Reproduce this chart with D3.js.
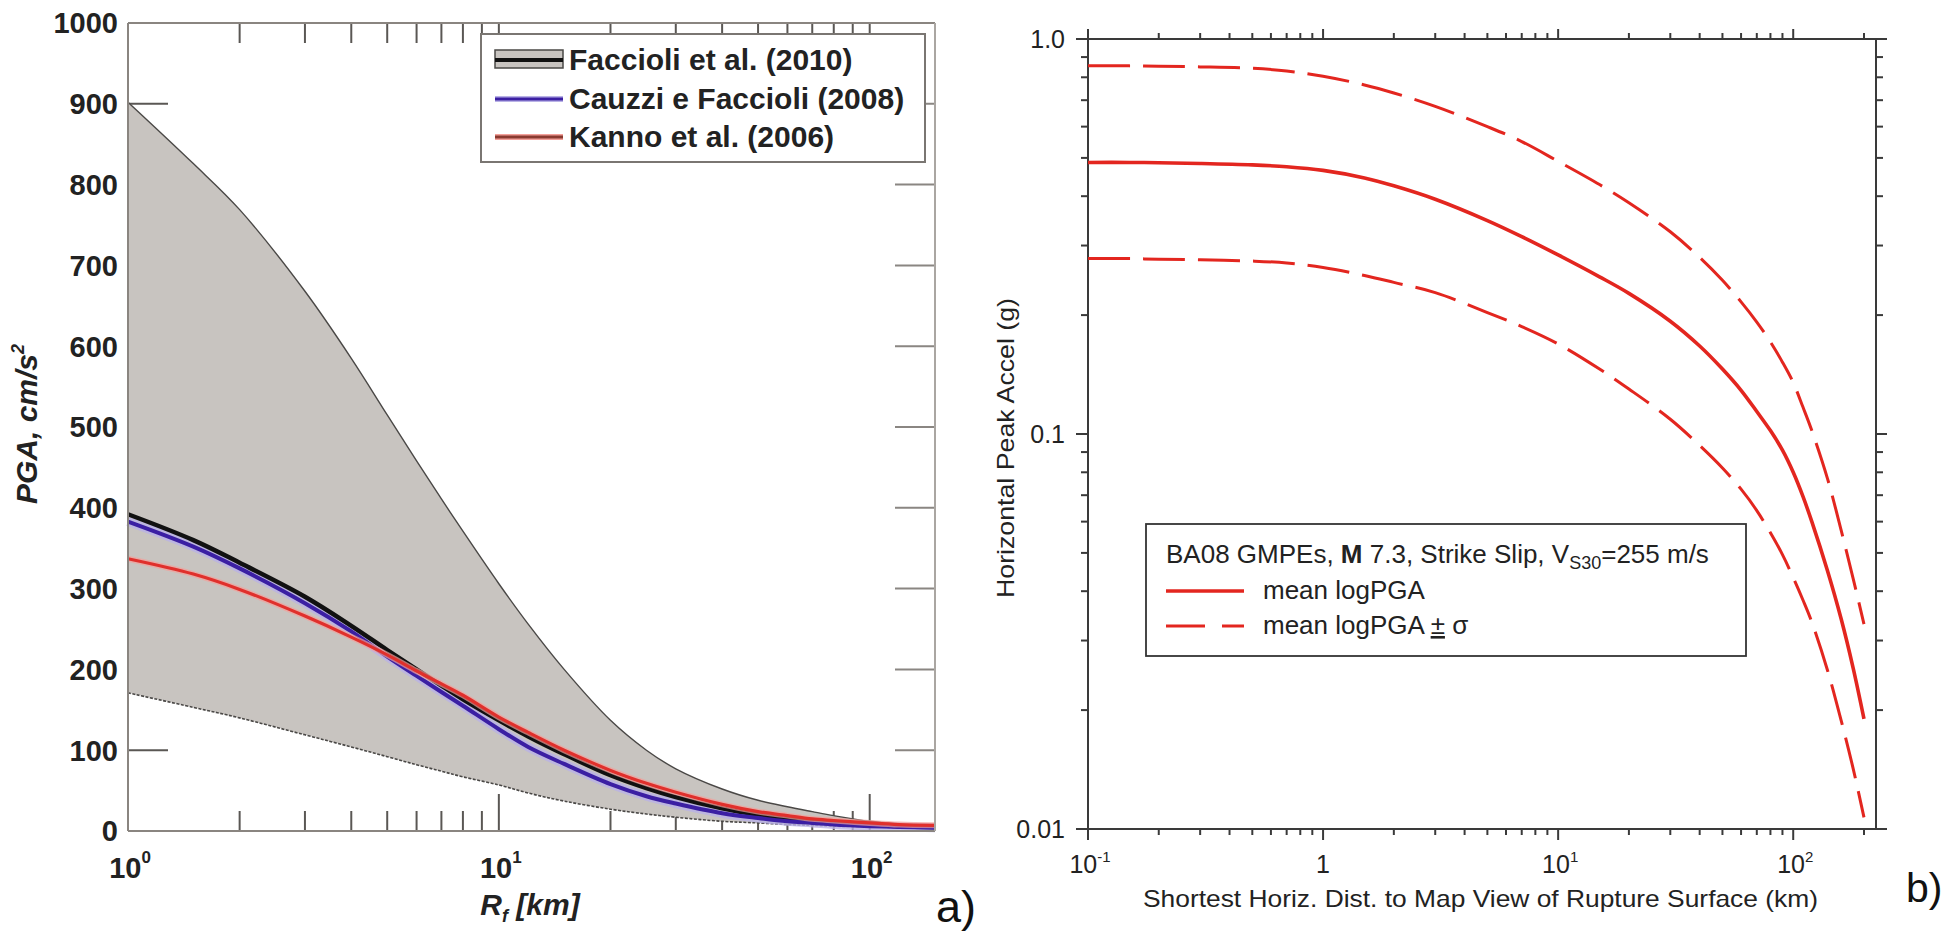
<!DOCTYPE html>
<html><head><meta charset="utf-8">
<script src="https://cdn.jsdelivr.net/npm/d3@7"></script>
<style>body{margin:0;background:#fff}svg{display:block}text{font-family:"Liberation Sans",Arial,sans-serif}</style>
</head><body>
<svg id="c" width="1946" height="943"></svg>
<script>
// ---------- Panel a) data ----------
const distA   = [1, 1.5, 2, 3, 4, 5, 6, 7, 8, 10, 12, 15, 20, 25, 30, 40, 50, 60, 70, 80, 100, 120, 150];
const upperA  = [902, 826, 769, 668, 585, 515, 458, 411, 371, 306, 256, 200, 137, 100, 77, 52, 38, 30, 24, 19, 12, 9, 7];
const lowerA  = [171, 153, 140, 119, 104, 92, 82, 74, 67, 57, 47, 37, 27, 21, 17, 12, 10, 8, 7, 6, 5, 4, 4];
const faccioli= [392, 360, 332, 290, 254, 224, 200, 180, 163, 137, 117, 95, 69, 53, 42, 28, 20, 15, 12, 10, 8, 6, 5];
const cauzzi  = [383, 352, 325, 282, 247, 216, 192, 172, 155, 126, 104, 83, 58, 43, 34, 22, 16, 12, 10, 8, 6, 5, 4];
const kanno   = [337, 318, 299, 266, 240, 218, 198, 182, 168, 141, 122, 100, 75, 59, 48, 33, 24, 19, 15, 13, 10, 8, 7];
const yTicksA = [0, 100, 200, 300, 400, 500, 600, 700, 800, 900, 1000];
const xExpA   = [0, 1, 2];
const legendA = ["Faccioli et al. (2010)", "Cauzzi e Faccioli (2008)", "Kanno et al. (2006)"];

// ---------- Panel b) data ----------
const distB  = [0.1, 0.15, 0.2, 0.3, 0.5, 0.7, 1, 1.5, 2, 3, 5, 7, 10, 15, 20, 30, 40, 50, 60, 70, 80, 90, 100, 110, 120, 140, 160, 180, 200];
const meanB  = [0.487, 0.487, 0.486, 0.484, 0.480, 0.475, 0.465, 0.445, 0.425, 0.393, 0.347, 0.316, 0.284, 0.250, 0.227, 0.193, 0.167, 0.146, 0.129, 0.114, 0.102, 0.091, 0.080, 0.0695, 0.060, 0.045, 0.034, 0.0255, 0.019];
const plusB  = [0.855, 0.855, 0.853, 0.850, 0.843, 0.830, 0.805, 0.765, 0.730, 0.675, 0.600, 0.550, 0.490, 0.428, 0.385, 0.325, 0.280, 0.245, 0.216, 0.192, 0.171, 0.152, 0.135, 0.117, 0.102, 0.077, 0.057, 0.043, 0.033];
const minusB = [0.278, 0.278, 0.277, 0.276, 0.274, 0.271, 0.264, 0.252, 0.242, 0.228, 0.203, 0.187, 0.169, 0.146, 0.130, 0.109, 0.0935, 0.0820, 0.0725, 0.0640, 0.0562, 0.0495, 0.0433, 0.0380, 0.0334, 0.0252, 0.0188, 0.0142, 0.0107];
const yTickLabelsB = [{v:1, t:"1.0"}, {v:0.1, t:"0.1"}, {v:0.01, t:"0.01"}];
const xTickLabelsB = [{v:0.1, b:"10", e:"-1"}, {v:1, b:"1", e:""}, {v:10, b:"10", e:"1"}, {v:100, b:"10", e:"2"}];

const svg = d3.select("#c");
const isMajor = t => Math.abs(Math.log10(t) - Math.round(Math.log10(t))) < 1e-6;
const curve = d3.curveCatmullRom.alpha(0.5);

// ================= Panel a =================
const xA = d3.scaleLog().domain([1, 150]).range([128, 935]);
const yA = d3.scaleLinear().domain([0, 1000]).range([831, 23]);
const gA = svg.append("g");
const tickCol = "#5a5754";

xA.ticks().filter(t => t > 1).forEach(t => {
  const L = isMajor(t) ? 37 : 20;
  gA.append("line").attr("x1", xA(t)).attr("x2", xA(t)).attr("y1", yA(0)).attr("y2", yA(0) - L)
    .attr("stroke", tickCol).attr("stroke-width", 2);
  gA.append("line").attr("x1", xA(t)).attr("x2", xA(t)).attr("y1", yA(1000)).attr("y2", yA(1000) + 20)
    .attr("stroke", tickCol).attr("stroke-width", 2);
});
yTicksA.filter(v => v > 0 && v < 1000).forEach(v => {
  gA.append("line").attr("x1", xA(1)).attr("x2", xA(1) + 40).attr("y1", yA(v)).attr("y2", yA(v))
    .attr("stroke", tickCol).attr("stroke-width", 2);
  gA.append("line").attr("x1", xA(150)).attr("x2", xA(150) - 40).attr("y1", yA(v)).attr("y2", yA(v))
    .attr("stroke", "#8a8682").attr("stroke-width", 2);
});

const ptsA = distA.map((d, i) => ({x: d, up: upperA[i], lo: lowerA[i], f: faccioli[i], c: cauzzi[i], k: kanno[i]}));
const area = d3.area().x(d => xA(d.x)).y0(d => yA(d.lo)).y1(d => yA(d.up)).curve(curve);
gA.append("path").datum(ptsA).attr("d", area).attr("fill", "#c8c4c0");
const lineOf = key => d3.line().x(d => xA(d.x)).y(d => yA(d[key])).curve(curve);
gA.append("path").datum(ptsA).attr("d", lineOf("up")).attr("fill", "none").attr("stroke", "#4a4846").attr("stroke-width", 1.4);
gA.append("path").datum(ptsA).attr("d", lineOf("lo")).attr("fill", "none").attr("stroke", "#4a4846").attr("stroke-width", 1.6).attr("stroke-dasharray", "3,1.5");

gA.append("path").datum(ptsA).attr("d", lineOf("c")).attr("fill", "none").attr("stroke", "#b9b2e6").attr("stroke-width", 9).attr("opacity", 0.8);
gA.append("path").datum(ptsA).attr("d", lineOf("f")).attr("fill", "none").attr("stroke", "#111").attr("stroke-width", 4.5);
gA.append("path").datum(ptsA).attr("d", lineOf("c")).attr("fill", "none").attr("stroke", "#3b1fa3").attr("stroke-width", 4);
gA.append("path").datum(ptsA).attr("d", lineOf("k")).attr("fill", "none").attr("stroke", "#f3a09a").attr("stroke-width", 6).attr("opacity", 0.7);
gA.append("path").datum(ptsA).attr("d", lineOf("k")).attr("fill", "none").attr("stroke", "#e0302c").attr("stroke-width", 3.2);

// frame
gA.append("line").attr("x1", 128).attr("x2", 128).attr("y1", yA(1000)).attr("y2", yA(0)).attr("stroke", "#8a8580").attr("stroke-width", 2);
gA.append("line").attr("x1", 128).attr("x2", xA(150)).attr("y1", yA(1000)).attr("y2", yA(1000)).attr("stroke", "#8a8580").attr("stroke-width", 2);
gA.append("line").attr("x1", 128).attr("x2", xA(150)).attr("y1", yA(0)).attr("y2", yA(0)).attr("stroke", "#8a8580").attr("stroke-width", 2);
gA.append("line").attr("x1", xA(150)).attr("x2", xA(150)).attr("y1", yA(1000)).attr("y2", yA(0)).attr("stroke", "#aaa6a2").attr("stroke-width", 2);

// legend a
gA.append("rect").attr("x", 481).attr("y", 34).attr("width", 444).attr("height", 128)
  .attr("fill", "#fff").attr("stroke", "#7a7672").attr("stroke-width", 2);
const legY = [60, 99, 137];
gA.append("rect").attr("x", 495).attr("y", 50).attr("width", 68).attr("height", 18)
  .attr("fill", "#c8c4c0").attr("stroke", "#4a4846").attr("stroke-width", 1.5);
gA.append("line").attr("x1", 495).attr("x2", 563).attr("y1", legY[0]).attr("y2", legY[0]).attr("stroke", "#111").attr("stroke-width", 4);
gA.append("line").attr("x1", 495).attr("x2", 563).attr("y1", legY[1]).attr("y2", legY[1]).attr("stroke", "#b9b2e6").attr("stroke-width", 6);
gA.append("line").attr("x1", 495).attr("x2", 563).attr("y1", legY[1]).attr("y2", legY[1]).attr("stroke", "#3b1fa3").attr("stroke-width", 3);
gA.append("line").attr("x1", 495).attr("x2", 563).attr("y1", legY[2]).attr("y2", legY[2]).attr("stroke", "#f3a09a").attr("stroke-width", 6);
gA.append("line").attr("x1", 495).attr("x2", 563).attr("y1", legY[2]).attr("y2", legY[2]).attr("stroke", "#8a3a30").attr("stroke-width", 3);
legendA.forEach((t, i) => {
  gA.append("text").attr("x", 569).attr("y", legY[i] + 10).attr("font-size", 30).attr("font-weight", "bold")
    .attr("fill", "#222").text(t);
});

// tick labels a
yTicksA.forEach(v => {
  gA.append("text").attr("x", 118).attr("y", yA(v)).attr("dy", "0.36em").attr("text-anchor", "end")
    .attr("font-size", 29).attr("font-weight", "bold").attr("fill", "#222").text(v);
});
xExpA.forEach(p => {
  const t = gA.append("text").attr("x", xA(Math.pow(10, p)) + 2).attr("y", 878).attr("text-anchor", "middle")
    .attr("font-size", 29).attr("font-weight", "bold").attr("fill", "#222");
  t.append("tspan").text("10");
  t.append("tspan").attr("dy", -15).attr("font-size", 17).text(p);
});
const xt = gA.append("text").attr("x", 530).attr("y", 915).attr("text-anchor", "middle")
  .attr("font-size", 30).attr("font-weight", "bold").attr("font-style", "italic").attr("fill", "#222");
xt.append("tspan").text("R");
xt.append("tspan").attr("dy", 7).attr("font-size", 18).text("f");
xt.append("tspan").attr("dy", -7).text(" [km]");
const yt = gA.append("text").attr("transform", "translate(37,424) rotate(-90)").attr("text-anchor", "middle")
  .attr("font-size", 30).attr("font-weight", "bold").attr("font-style", "italic").attr("fill", "#222");
yt.append("tspan").text("PGA, cm/s");
yt.append("tspan").attr("dy", -13).attr("font-size", 18).text("2");
svg.append("text").attr("x", 936).attr("y", 922).attr("font-size", 45).attr("fill", "#111").text("a)");

// ================= Panel b =================
const xB = d3.scaleLog().domain([0.1, 225]).range([1088, 1876]);
const yB = d3.scaleLog().domain([0.01, 1]).range([829, 39]);
const gB = svg.append("g");
const axCol = "#3a3a3a";

xB.ticks().forEach(t => {
  const maj = isMajor(t);
  gB.append("line").attr("x1", xB(t)).attr("x2", xB(t)).attr("y1", yB(1)).attr("y2", yB(1) - (maj ? 10 : 6))
    .attr("stroke", axCol).attr("stroke-width", 2);
  gB.append("line").attr("x1", xB(t)).attr("x2", xB(t)).attr("y1", yB(0.01)).attr("y2", yB(0.01) + (maj ? 11 : 6))
    .attr("stroke", axCol).attr("stroke-width", 2);
});
yB.ticks().forEach(t => {
  const maj = isMajor(t);
  gB.append("line").attr("x1", xB(0.1)).attr("x2", xB(0.1) - (maj ? 12 : 7)).attr("y1", yB(t)).attr("y2", yB(t))
    .attr("stroke", axCol).attr("stroke-width", 2);
  gB.append("line").attr("x1", xB(225)).attr("x2", xB(225) + (maj ? 11 : 7)).attr("y1", yB(t)).attr("y2", yB(t))
    .attr("stroke", axCol).attr("stroke-width", 2);
});
gB.append("rect").attr("x", xB(0.1)).attr("y", yB(1)).attr("width", xB(225) - xB(0.1)).attr("height", yB(0.01) - yB(1))
  .attr("fill", "none").attr("stroke", axCol).attr("stroke-width", 2);

const ptsB = distB.map((d, i) => ({x: d, m: meanB[i], p: plusB[i], n: minusB[i]}));
const lineB = key => d3.line().x(d => xB(d.x)).y(d => yB(d[key])).curve(curve);
const red = "#e3261f";
gB.append("path").datum(ptsB).attr("d", lineB("m")).attr("fill", "none").attr("stroke", red).attr("stroke-width", 3.6);
gB.append("path").datum(ptsB).attr("d", lineB("p")).attr("fill", "none").attr("stroke", red).attr("stroke-width", 3).attr("stroke-dasharray", "42,13");
gB.append("path").datum(ptsB).attr("d", lineB("n")).attr("fill", "none").attr("stroke", red).attr("stroke-width", 3).attr("stroke-dasharray", "42,13");

yTickLabelsB.forEach(d => {
  gB.append("text").attr("x", 1065).attr("y", yB(d.v)).attr("dy", "0.36em").attr("text-anchor", "end")
    .attr("font-size", 25).attr("fill", "#222").text(d.t);
});
xTickLabelsB.forEach(d => {
  const t = gB.append("text").attr("x", xB(d.v) + (d.e ? 2 : 0)).attr("y", 873).attr("text-anchor", "middle")
    .attr("font-size", 25).attr("fill", "#222");
  t.append("tspan").text(d.b);
  if (d.e) t.append("tspan").attr("dy", -11).attr("font-size", 15).text(d.e);
});
gB.append("text").attr("x", 1143).attr("y", 907).attr("font-size", 24).attr("fill", "#222")
  .attr("textLength", 675).attr("lengthAdjust", "spacingAndGlyphs")
  .text("Shortest Horiz. Dist. to Map View of Rupture Surface (km)");
gB.append("text").attr("transform", "translate(1014,448) rotate(-90)").attr("text-anchor", "middle")
  .attr("font-size", 24).attr("fill", "#222").attr("textLength", 300).attr("lengthAdjust", "spacingAndGlyphs")
  .text("Horizontal Peak Accel (g)");

gB.append("rect").attr("x", 1146).attr("y", 524).attr("width", 600).attr("height", 132)
  .attr("fill", "#fff").attr("stroke", "#333").attr("stroke-width", 1.8);
const l1 = gB.append("text").attr("x", 1166).attr("y", 563).attr("font-size", 26).attr("fill", "#222");
l1.append("tspan").text("BA08 GMPEs, ");
l1.append("tspan").attr("font-weight", "bold").text("M");
l1.append("tspan").text(" 7.3, Strike Slip, V");
l1.append("tspan").attr("dy", 6).attr("font-size", 18).text("S30");
l1.append("tspan").attr("dy", -6).text("=255 m/s");
gB.append("line").attr("x1", 1166).attr("x2", 1244).attr("y1", 591).attr("y2", 591).attr("stroke", red).attr("stroke-width", 3.6);
gB.append("text").attr("x", 1263).attr("y", 599).attr("font-size", 26).attr("fill", "#222").text("mean logPGA");
gB.append("line").attr("x1", 1166).attr("x2", 1244).attr("y1", 626).attr("y2", 626).attr("stroke", red).attr("stroke-width", 3).attr("stroke-dasharray", "39,17");
const l3 = gB.append("text").attr("x", 1263).attr("y", 634).attr("font-size", 26).attr("fill", "#222");
l3.append("tspan").text("mean logPGA ");
l3.append("tspan").style("text-decoration", "underline").text("±");
l3.append("tspan").text(" σ");

svg.append("text").attr("x", 1906).attr("y", 902).attr("font-size", 41).attr("fill", "#111").text("b)");
</script>
</body></html>
